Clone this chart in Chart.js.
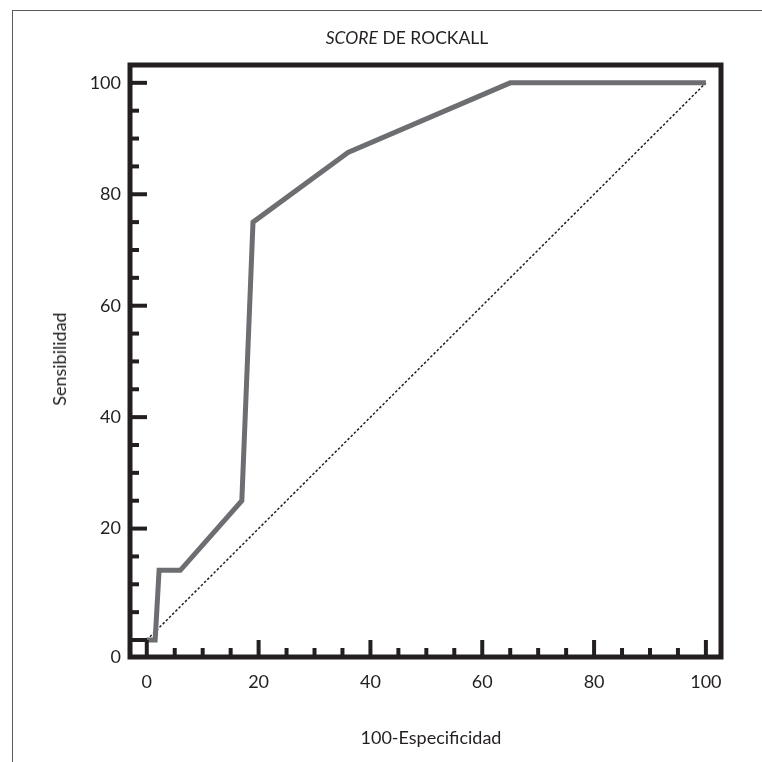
<!DOCTYPE html>
<html>
<head>
<meta charset="utf-8">
<script src="https://cdn.jsdelivr.net/npm/chart.js@4.4.1/dist/chart.umd.min.js"></script>
<style>
  html, body { margin: 0; padding: 0; background: #fff; }
  #wrap { position: relative; width: 762px; height: 762px; overflow: hidden; }
  #rocChart { position: absolute; left: 0; top: 0; }
  .box { position: absolute; left: 12px; top: 10px; width: 800px; height: 800px;
         border-top: 1.5px solid #5a5a5a; border-left: 1.5px solid #5a5a5a; }
  .txt { position: absolute; font-family: Lato, sans-serif; color: #231f20;
         white-space: nowrap; line-height: 1; }
</style>
</head>
<body>
<div id="wrap">
  <div class="box"></div>
  <canvas id="rocChart" width="762" height="762"></canvas>
  <div class="txt" id="title" style="font-size:17.5px; left:407px; top:29px; transform:translateX(-50%)"><i>SCORE</i> DE ROCKALL</div>
  <div class="txt" id="xTitle" style="font-size:18px; left:431px; top:728px; transform:translateX(-50%)">100-Especificidad</div>
  <div class="txt" id="yTitle" style="font-size:18px; left:59px; top:359px; transform:translate(-50%,-50%) rotate(-90deg)">Sensibilidad</div>
</div>
<script>
// ROC curve (100-specificity vs sensitivity)
const rocX = [0, 1.5, 2.2, 6, 17, 19, 36, 65, 100];
const rocY = [0, 0, 12.5, 12.5, 25, 75, 87.5, 100, 100];
// reference diagonal
const diagX = [0, 100];
const diagY = [0, 100];

const xTicks = [0, 20, 40, 60, 80, 100];
const yTicks = [0, 20, 40, 60, 80, 100];
const tickMarks = [0, 5, 10, 15, 20, 25, 30, 35, 40, 45, 50, 55, 60, 65, 70, 75, 80, 85, 90, 95, 100];
const xMin = -3, xMax = 102.7;
const yMin = -3.05, yMax = 103.2;

const ink = '#231f20';
const font = { family: 'Lato, sans-serif', size: 18 };

const frameTicks = {
  id: 'frameTicks',
  afterDraw(chart) {
    const { ctx, chartArea: a } = chart;
    const xs = chart.scales.x, ys = chart.scales.y;
    ctx.save();
    ctx.strokeStyle = ink;
    ctx.lineWidth = 4;
    ctx.lineCap = 'butt';
    tickMarks.forEach(v => {
      const len = v % 20 === 0 ? 17 : 9;
      const px = xs.getPixelForValue(v);
      ctx.beginPath(); ctx.moveTo(px, a.bottom); ctx.lineTo(px, a.bottom - len); ctx.stroke();
      const py = ys.getPixelForValue(v);
      ctx.beginPath(); ctx.moveTo(a.left, py); ctx.lineTo(a.left + len, py); ctx.stroke();
    });
    ctx.lineWidth = 5;
    ctx.lineJoin = 'miter';
    ctx.strokeRect(a.left, a.top, a.right - a.left, a.bottom - a.top);
    ctx.restore();
  }
};

new Chart(document.getElementById('rocChart'), {
  type: 'scatter',
  data: {
    datasets: [
      {
        data: rocX.map((x, i) => ({ x, y: rocY[i] })),
        showLine: true, borderColor: '#6d6e71', borderWidth: 5,
        pointRadius: 0, borderJoinStyle: 'miter', tension: 0
      },
      {
        data: diagX.map((x, i) => ({ x, y: diagY[i] })),
        showLine: true, borderColor: ink, borderWidth: 1.5, borderDash: [2.5, 2],
        pointRadius: 0
      }
    ]
  },
  options: {
    responsive: false, animation: false,
    layout: { padding: { top: 65, right: 41, left: 0, bottom: 0 } },
    plugins: { legend: { display: false }, tooltip: { enabled: false } },
    scales: {
      x: {
        type: 'linear', min: xMin, max: xMax,
        afterBuildTicks: s => { s.ticks = xTicks.map(v => ({ value: v })); },
        afterFit: s => { s.height = 105; },
        grid: { display: false, drawTicks: false },
        border: { display: false },
        ticks: { color: ink, font, padding: 14, maxRotation: 0 }
      },
      y: {
        type: 'linear', min: yMin, max: yMax,
        // the "0" label sits on the bottom frame in the original
        afterBuildTicks: s => { s.ticks = yTicks.map(v => ({ value: v === 0 ? yMin : v })); },
        afterFit: s => { s.width = 130; },
        grid: { display: false, drawTicks: false },
        border: { display: false },
        ticks: { color: ink, font, padding: 9, callback: v => v < 0 ? '0' : v }
      }
    }
  },
  plugins: [frameTicks]
});
</script>
</body>
</html>
